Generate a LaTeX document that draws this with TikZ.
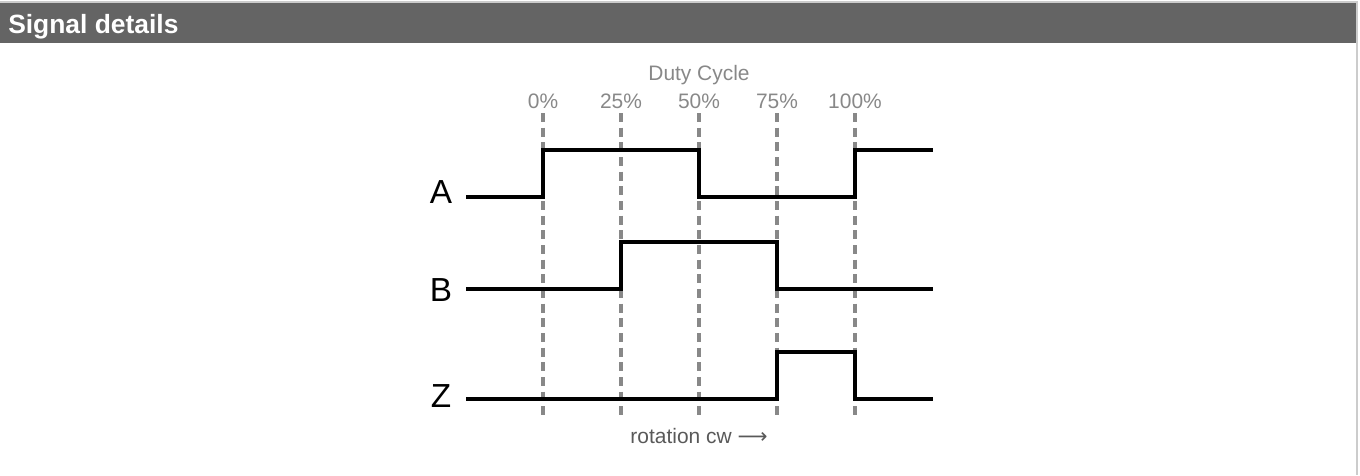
\documentclass[tikz,border=0pt]{standalone}
\usepackage{fontspec}
\setmainfont{Liberation Sans}
\newfontfamily\arrowfont{DejaVu Sans}
\usetikzlibrary{positioning}
\definecolor{hdrgray}{HTML}{646464}
\definecolor{rulegray}{HTML}{CCCCCC}
\definecolor{tickgray}{HTML}{888888}
\definecolor{notegray}{HTML}{595959}

\tikzset{
  tick/.style={draw=tickgray, line width=2.3pt, dash pattern=on 6.8pt off 4.2pt},
  wave/.style={draw=black, line width=2.3pt, line join=miter},
  pct/.style={anchor=base, text=tickgray, inner sep=0pt, font=\fontsize{15.7}{18}\selectfont},
  sig/.style={anchor=base, inner sep=0pt, font=\fontsize{25}{30}\selectfont},
}

\begin{document}
\begin{tikzpicture}[x=0.75pt,y=-0.75pt]
\useasboundingbox (0,0) rectangle (1360,475);
\fill[hdrgray] (0,3) rectangle (1356,43);
\draw[rulegray, line width=1.5pt] (0,2) -- (1357,2) -- (1357,475);
\node[anchor=base west, inner sep=0pt, text=white, font=\bfseries\fontsize{19.8}{22}\selectfont] (title) at (8,33) {Signal details};

% duty cycle ticks
\foreach \p [count=\i from 0] in {0,25,50,75,100}
{
  \draw[tick] (543+78*\i,113) coordinate (t\i) -- (543+78*\i,418) coordinate (b\i);
  \node[pct] (p\i) at (543+78*\i,108) {\p\%};
}
\node[pct] (duty) at (699,80) {Duty Cycle};
\node[pct, text=notegray] (rot) at (699,443) {rotation cw {\arrowfont ⟶}};

% channels
\node[sig] (A) at (441,203) {A};
\node[sig] (B) at (441,301) {B};
\node[sig] (Z) at (441,407) {Z};

\draw[wave] (466,197) -- (543,197) -- (543,150) -- (699,150) -- (699,197) -- (855,197) -- (855,150) -- (933,150);
\draw[wave] (466,289) -- (621,289) -- (621,242) -- (777,242) -- (777,289) -- (933,289);
\draw[wave] (466,399) -- (777,399) -- (777,352) -- (855,352) -- (855,399) -- (933,399);
\end{tikzpicture}
\end{document}
